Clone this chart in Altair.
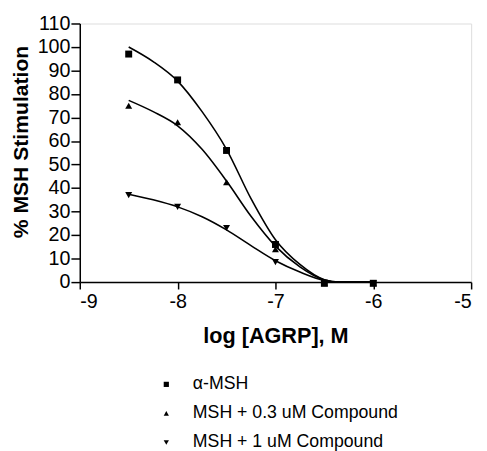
import altair as alt
import pandas as pd

series_names = ["α-MSH", "MSH + 0.3 uM Compound", "MSH + 1 uM Compound"]

# measured points
pt_x = [-8.5, -8.0, -7.5, -7.0, -6.5, -6.0]
pt_msh = [97.0, 86.0, 56.0, 16.0, -0.5, -0.5]
pt_03 = [75.0, 68.0, 42.5, 14.0, -0.5, -0.5]
pt_1 = [37.0, 32.0, 23.0, 8.5, -0.5, -0.5]

# fitted curves
cv_x = [-8.5, -8.25, -8.0, -7.75, -7.5, -7.25, -7.0, -6.75, -6.5, -6.35, -6.0]
cv_msh = [100.0, 93.8, 85.5, 72.5, 56.5, 35.5, 18.0, 7.5, 1.0, 0.0, 0.0]
cv_03 = [77.3, 72.5, 66.5, 56.5, 43.0, 28.0, 15.3, 6.5, 0.9, 0.0, 0.0]
cv_1 = [37.4, 35.0, 32.0, 27.8, 22.2, 15.5, 9.1, 4.3, 0.7, 0.0, 0.0]

pts = pd.DataFrame(
    [(x, y, series_names[0]) for x, y in zip(pt_x, pt_msh)]
    + [(x, y, series_names[1]) for x, y in zip(pt_x, pt_03)]
    + [(x, y, series_names[2]) for x, y in zip(pt_x, pt_1)],
    columns=["x", "y", "series"],
)
curves = pd.DataFrame(
    [(x, y, series_names[0]) for x, y in zip(cv_x, cv_msh)]
    + [(x, y, series_names[1]) for x, y in zip(cv_x, cv_03)]
    + [(x, y, series_names[2]) for x, y in zip(cv_x, cv_1)],
    columns=["x", "y", "series"],
)

FONT = "Liberation Sans"

xs = alt.X(
    "x:Q",
    scale=alt.Scale(domain=[-9, -5], nice=False, zero=False),
    axis=alt.Axis(
        title="log [AGRP], M",
        values=[-9, -8, -7, -6, -5],
        labelExpr="datum.value + ''",
        grid=False,
        domainColor="black",
        domainWidth=1.5,
        tickColor="black",
        tickWidth=1.5,
        tickSize=7,
        labelPadding=3,
        labelFont=FONT,
        labelFontSize=20,
        labelColor="black",
        titleFont=FONT,
        titleFontSize=22,
        titleFontWeight="bold",
        titleColor="black",
        titleBaseline="alphabetic",
        titleY=61,
    ),
)
ys = alt.Y(
    "y:Q",
    scale=alt.Scale(domain=[0, 110], nice=False),
    axis=alt.Axis(
        title="% MSH Stimulation",
        values=list(range(0, 111, 10)),
        grid=False,
        domainColor="black",
        domainWidth=1.5,
        tickColor="black",
        tickWidth=1.5,
        tickSize=9,
        labelPadding=1,
        labelFont=FONT,
        labelFontSize=20,
        labelColor="black",
        titleFont=FONT,
        titleFontSize=21.5,
        titleFontWeight="bold",
        titleColor="black",
        titleAngle=-90,
        titleAlign="center",
        titleBaseline="middle",
        titleX=-59,
        titleY=120,
    ),
)

lines = alt.Chart(curves).mark_line(
    color="black", strokeWidth=1.6, interpolate="monotone", clip=False
).encode(x=xs, y=ys, detail="series:N")

points = alt.Chart(pts).mark_point(
    filled=True, color="black", size=50, opacity=1
).encode(
    x=xs,
    y=ys,
    shape=alt.Shape(
        "series:N",
        scale=alt.Scale(
            domain=series_names,
            range=["square", "triangle-up", "triangle-down"],
        ),
        legend=alt.Legend(
            title=None,
            orient="none",
            legendX=79,
            legendY=358,
            padding=0,
            symbolSize=28,
            symbolFillColor="black",
            symbolStrokeColor="black",
            symbolStrokeWidth=0,
            labelFont=FONT,
            labelFontSize=18,
            labelColor="black",
            labelOffset=18,
            rowPadding=11.5,
            labelLimit=400,
        ),
    ),
)

chart = (
    alt.layer(lines, points)
    .properties(
        width=398,
        height=263,
        autosize=alt.AutoSizeParams(type="none"),
        padding={"left": 73, "top": 12, "right": 8, "bottom": 168},
    )
    .configure_view(stroke=None)
    .configure(background="white")
)

chart.save("out.html", embed_options={"renderer": "svg", "actions": False})
